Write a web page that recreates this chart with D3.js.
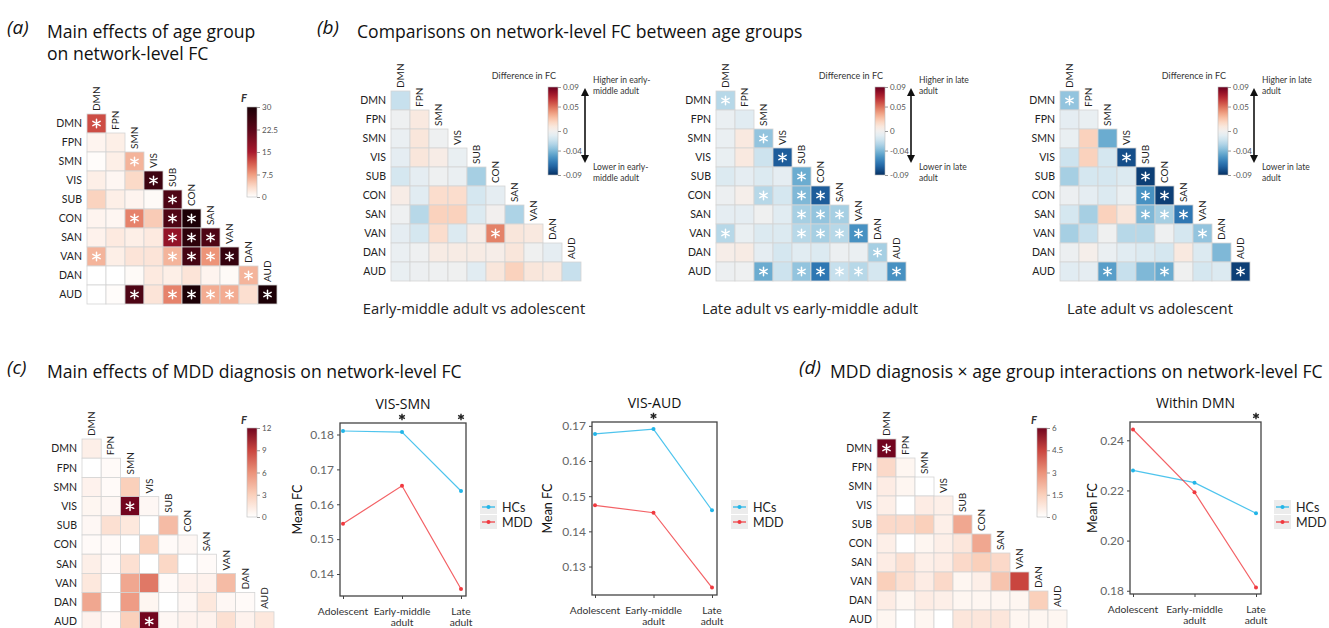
<!DOCTYPE html>
<html>
<head>
<meta charset="utf-8">
<script src="https://cdn.jsdelivr.net/npm/d3@7"></script>
<style>
  body { margin: 0; background: #fff; }
  svg { display: block; font-family: Lato, "Open Sans", sans-serif; }
</style>
</head>
<body>
<svg id="fig" width="1329" height="628"></svg>
<script>
// networks shared by every matrix
const nets = ["DMN", "FPN", "SMN", "VIS", "SUB", "CON", "SAN", "VAN", "DAN", "AUD"];

// (a) F values, main effect of age group (lower triangle, row by row)
const ageF = [
    [12],
    [1, 1.5],
    [0.3, 1.5, 6],
    [1.5, 0.8, 3.5, 26],
    [4, 1.5, 1, 0.5, 24],
    [1, 0.8, 9, 4.5, 24, 31],
    [1.2, 2, 1.5, 2, 17, 28, 24],
    [6, 1.5, 2.5, 2.5, 6, 25, 8, 27],
    [0, 0, 0.5, 2, 1.5, 2.5, 1, 0.5, 6],
    [0, 0.3, 24, 2.5, 9, 30, 6.5, 6.5, 3, 30]
];
const ageSig = [
    [1],
    [0, 0],
    [0, 0, 1],
    [0, 0, 0, 1],
    [0, 0, 0, 0, 1],
    [0, 0, 1, 0, 1, 1],
    [0, 0, 0, 0, 1, 1, 1],
    [1, 0, 0, 0, 1, 1, 1, 1],
    [0, 0, 0, 0, 0, 0, 0, 0, 1],
    [0, 0, 1, 0, 1, 1, 1, 1, 0, 1]
];

// (b) differences in FC between age groups
const emVsAdol = [
    [-0.02],
    [-0.003, 0.008],
    [-0.005, 0.01, -0.003],
    [-0.008, 0.01, 0.005, -0.006],
    [-0.015, -0.008, -0.003, -0.005, -0.03],
    [0.005, -0.01, 0.015, 0.015, -0.015, -0.008],
    [-0.003, -0.025, 0.02, 0.02, -0.012, 0, -0.028],
    [-0.008, -0.015, 0.015, -0.012, 0.005, 0.045, 0.01, 0.008],
    [-0.005, -0.003, 0.006, 0.006, 0.006, 0.004, 0.01, -0.002, -0.008],
    [-0.006, -0.004, -0.003, -0.002, -0.01, 0.01, 0.02, 0.01, 0.008, -0.02]
];
const emVsAdolSig = [
    [0],
    [0, 0],
    [0, 0, 0],
    [0, 0, 0, 0],
    [0, 0, 0, 0, 0],
    [0, 0, 0, 0, 0, 0],
    [0, 0, 0, 0, 0, 0, 0],
    [0, 0, 0, 0, 0, 1, 0, 0],
    [0, 0, 0, 0, 0, 0, 0, 0, 0],
    [0, 0, 0, 0, 0, 0, 0, 0, 0, 0]
];
const lateVsEm = [
    [-0.025],
    [-0.005, -0.01],
    [-0.005, 0.008, -0.035],
    [-0.006, 0.008, -0.018, -0.075],
    [-0.012, -0.008, -0.012, -0.008, -0.045],
    [-0.004, 0.003, -0.025, -0.015, -0.04, -0.075],
    [-0.008, -0.008, -0.002, -0.01, -0.03, -0.035, -0.03],
    [-0.025, -0.006, -0.012, -0.012, -0.025, -0.03, -0.025, -0.055],
    [0.004, 0.006, -0.008, -0.015, -0.01, -0.012, -0.004, -0.005, -0.03],
    [-0.004, -0.003, -0.045, -0.018, -0.035, -0.065, -0.02, -0.025, -0.015, -0.055]
];
const lateVsEmSig = ageSig;
const lateVsAdol = [
    [-0.035],
    [-0.008, -0.006],
    [-0.006, 0.02, -0.045],
    [-0.018, 0.02, -0.015, -0.08],
    [-0.03, -0.015, -0.015, -0.012, -0.085],
    [-0.004, -0.008, -0.012, -0.006, -0.055, -0.085],
    [-0.015, -0.03, 0.02, 0.01, -0.04, -0.03, -0.065],
    [-0.03, -0.02, -0.002, -0.025, -0.025, -0.003, -0.015, -0.035],
    [-0.004, 0.003, -0.005, -0.01, -0.012, -0.015, 0.008, -0.012, -0.04],
    [-0.01, -0.008, -0.05, -0.02, -0.04, -0.045, -0.002, -0.015, -0.012, -0.085]
];
const lateVsAdolSig = [
    [1],
    [0, 0],
    [0, 0, 0],
    [0, 0, 0, 1],
    [0, 0, 0, 0, 1],
    [0, 0, 0, 0, 1, 1],
    [0, 0, 0, 0, 1, 1, 1],
    [0, 0, 0, 0, 0, 0, 0, 1],
    [0, 0, 0, 0, 0, 0, 0, 0, 0],
    [0, 0, 1, 0, 0, 1, 0, 0, 0, 1]
];

// (c) F values, main effect of MDD diagnosis
const mddF = [
    [1],
    [0, 0.3],
    [0.8, 0.3, 3],
    [0.6, 0.5, 12, 0.5],
    [0.5, 2, 1.5, 0, 4],
    [0.3, 0.3, 0, 3, 0.3, 0.5],
    [1, 0.3, 2, 0, 2.5, 0, 0.3],
    [1.5, 0, 5, 7, 0.3, 0.8, 0.8, 4],
    [5, 0, 5.5, 0.6, 0, 0.5, 1.5, 0.5, 0.3],
    [0.8, 0.3, 3, 12, 0.5, 0.8, 0.8, 2, 0.8, 1.5]
];
const mddSig = [
    [0],
    [0, 0],
    [0, 0, 0],
    [0, 0, 1, 0],
    [0, 0, 0, 0, 0],
    [0, 0, 0, 0, 0, 0],
    [0, 0, 0, 0, 0, 0, 0],
    [0, 0, 0, 0, 0, 0, 0, 0],
    [0, 0, 0, 0, 0, 0, 0, 0, 0],
    [0, 0, 0, 1, 0, 0, 0, 0, 0, 0]
];

// (d) F values, MDD x age group interaction
const intF = [
    [6],
    [1.2, 0.3],
    [0.6, 0.3, 0],
    [0.5, 0, 0.6, 0.5],
    [1.2, 1.2, 1.5, 0.5, 2.5],
    [0.5, 0, 0.3, 0.5, 0.8, 2.5],
    [0.6, 1, 0.5, 0.6, 1.2, 1.5, 1.2],
    [1.5, 1, 0.6, 1.2, 0.3, 0.5, 1.8, 4.5],
    [0.6, 0.3, 0.6, 0.5, 0.3, 0.3, 0.3, 0.3, 1.5],
    [0.3, 0, 0.3, 0, 0.8, 0.8, 0.8, 0.3, 0.3, 0.3]
];
const intSig = [
    [1],
    [0, 0],
    [0, 0, 0],
    [0, 0, 0, 0],
    [0, 0, 0, 0, 0],
    [0, 0, 0, 0, 0, 0],
    [0, 0, 0, 0, 0, 0, 0],
    [0, 0, 0, 0, 0, 0, 0, 0],
    [0, 0, 0, 0, 0, 0, 0, 0, 0],
    [0, 0, 0, 0, 0, 0, 0, 0, 0, 0]
];

// line plots: mean FC per age group
const groups = ["Adolescent", "Early-middle adult", "Late adult"];
const visSmnHC = [0.1810, 0.1807, 0.1638];
const visSmnMDD = [0.1544, 0.1653, 0.1357];
const visAudHC = [0.1677, 0.1691, 0.1460];
const visAudMDD = [0.1474, 0.1453, 0.1240];
const dmnHC = [0.2280, 0.2231, 0.2109];
const dmnMDD = [0.2443, 0.2193, 0.1813];

const hcColor = "#22b5e8";
const mddColor = "#f0393f";
const headFont = "'Open Sans', Lato, sans-serif";

let svg = d3.select("#fig");
svg.append("rect").attr("width", 1329).attr("height", 628).attr("fill", "#fff");

let defs = svg.append("defs");
defs.append("marker")
    .attr("id", "arrow")
    .attr("viewBox", "0 0 10 10")
    .attr("refX", 5).attr("refY", 5)
    .attr("markerWidth", 5).attr("markerHeight", 5)
    .attr("orient", "auto-start-reverse")
    .append("path")
    .attr("d", "M0,0L10,5L0,10z")
    .attr("fill", "#111");

function starPath(cx, cy, r) {
    return [90, 30, 150].map(a => {
        let t = a * Math.PI / 180;
        let dx = r * Math.cos(t), dy = r * Math.sin(t);
        return "M" + (cx - dx) + "," + (cy - dy) + "L" + (cx + dx) + "," + (cy + dy);
    }).join("");
}

function renderHeat(o) {
    let n = nets.length;
    let x = d3.scaleBand().domain(nets).range([o.x, o.x + o.cell * n]);
    let y = d3.scaleBand().domain(nets).range([o.y, o.y + o.cell * n]);
    let cells = [];
    o.values.forEach((row, i) => row.forEach((v, j) => {
        cells.push({ r: nets[i], c: nets[j], v: v, s: o.sig[i][j] });
    }));

    let g = svg.append("g");
    g.selectAll(".cell")
        .data(cells)
        .enter()
        .append("rect")
        .attr("x", d => x(d.c))
        .attr("y", d => y(d.r))
        .attr("width", x.bandwidth())
        .attr("height", y.bandwidth())
        .attr("fill", d => o.color(d.v))
        .attr("stroke", "#d4d4d4")
        .attr("stroke-width", 0.8);

    g.selectAll(".star")
        .data(cells.filter(d => d.s))
        .enter()
        .append("path")
        .attr("d", d => starPath(x(d.c) + x.bandwidth() / 2, y(d.r) + y.bandwidth() / 2, 4.2))
        .attr("stroke", "#fff")
        .attr("stroke-width", 1.5)
        .attr("stroke-linecap", "round");

    g.selectAll(".rl")
        .data(nets)
        .enter()
        .append("text")
        .attr("x", o.x - 5)
        .attr("y", d => y(d) + y.bandwidth() / 2)
        .attr("dy", "0.36em")
        .attr("text-anchor", "end")
        .attr("font-size", "10.5px")
        .attr("fill", "#222")
        .text(d => d);

    g.selectAll(".cl")
        .data(nets)
        .enter()
        .append("text")
        .attr("transform", d => "translate(" + (x(d) + x.bandwidth() / 2) + "," + (y(d) - 3) + ") rotate(-90)")
        .attr("dy", "0.36em")
        .attr("font-size", "10px")
        .attr("fill", "#222")
        .text(d => d);
}

let cbCount = 0;
function renderColorbar(o) {
    let id = "cb" + (cbCount++);
    let ext = d3.extent(o.ticks);
    let grad = defs.append("linearGradient")
        .attr("id", id)
        .attr("x1", 0).attr("y1", 1).attr("x2", 0).attr("y2", 0);
    d3.range(0, 1.0001, 0.05).forEach(t => {
        grad.append("stop")
            .attr("offset", t)
            .attr("stop-color", o.color(ext[0] + t * (ext[1] - ext[0])));
    });
    svg.append("rect")
        .attr("x", o.x).attr("y", o.y)
        .attr("width", o.w).attr("height", o.h)
        .attr("fill", "url(#" + id + ")")
        .attr("stroke", "#bbb")
        .attr("stroke-width", 0.6);

    let scale = d3.scaleLinear().domain(ext).range([o.y + o.h, o.y]);
    let ax = svg.append("g")
        .attr("transform", "translate(" + (o.x + o.w) + ",0)")
        .call(d3.axisRight(scale).tickValues(o.ticks).tickSize(3).tickPadding(2).tickFormat(o.fmt));
    ax.select(".domain").remove();
    ax.selectAll("line").attr("stroke", "#999");
    ax.selectAll("text").attr("font-size", "8px").attr("fill", "#555").attr("font-family", "Lato, sans-serif");

    if (o.label) {
        svg.append("text")
            .attr("x", o.labelX).attr("y", o.labelY)
            .attr("font-size", o.labelSize)
            .attr("font-style", o.labelItalic ? "italic" : "normal")
            .attr("font-weight", o.labelItalic ? "bold" : "normal")
            .attr("text-anchor", o.labelAnchor || "start")
            .attr("fill", "#333")
            .text(o.label);
    }
}

function renderArrow(o) {
    svg.append("line")
        .attr("x1", o.x).attr("x2", o.x)
        .attr("y1", o.y1 + 4).attr("y2", o.y2 - 4)
        .attr("stroke", "#111")
        .attr("stroke-width", 1.6)
        .attr("marker-start", "url(#arrow)")
        .attr("marker-end", "url(#arrow)");
    let lines = [[o.top, o.y1 - 5], [o.bottom, o.y2 + 7]];
    lines.forEach(([txt, yy]) => {
        txt.forEach((s, k) => {
            svg.append("text")
                .attr("x", o.x + 8)
                .attr("y", yy + k * 11)
                .attr("font-size", "8.5px")
                .attr("fill", "#333")
                .text(s);
        });
    });
}

function renderLines(o) {
    let x = d3.scalePoint().domain(groups).range([o.x0 + 3, o.x1 - 5]);
    let y = d3.scaleLinear().domain(o.domain).range([o.y1, o.y0]);
    let g = svg.append("g");

    g.append("rect")
        .attr("x", o.x0).attr("y", o.y0)
        .attr("width", o.x1 - o.x0).attr("height", o.y1 - o.y0)
        .attr("fill", "none")
        .attr("stroke", "#444")
        .attr("stroke-width", 1.3);

    let ya = g.append("g")
        .attr("transform", "translate(" + o.x0 + ",0)")
        .call(d3.axisLeft(y).tickValues(o.ticks).tickSize(3).tickPadding(3).tickFormat(d3.format(".2f")));
    ya.select(".domain").remove();
    ya.selectAll("line").attr("stroke", "#444");
    ya.selectAll("text").attr("font-size", "12px").attr("fill", "#666").attr("font-family", "Lato, sans-serif");

    let xa = g.append("g")
        .attr("transform", "translate(0," + o.y1 + ")")
        .call(d3.axisBottom(x).tickSize(3).tickFormat(""));
    xa.select(".domain").remove();
    xa.selectAll("line").attr("stroke", "#444");

    groups.forEach(grp => {
        let parts = grp === "Adolescent" ? [grp] : grp === "Late adult" ? ["Late", "adult"] : ["Early-middle", "adult"];
        parts.forEach((p, k) => {
            g.append("text")
                .attr("x", x(grp))
                .attr("y", o.y1 + 19 + k * 10.5)
                .attr("text-anchor", "middle")
                .attr("font-size", "10.3px")
                .attr("fill", "#333")
                .text(p);
        });
    });

    let series = [{ vals: o.hc, color: hcColor }, { vals: o.mdd, color: mddColor }];
    let line = d3.line().x((d, i) => x(groups[i])).y(d => y(d));
    series.forEach(s => {
        g.append("path")
            .attr("d", line(s.vals))
            .attr("fill", "none")
            .attr("stroke", s.color)
            .attr("stroke-opacity", 0.8)
            .attr("stroke-width", 1.2);
        g.selectAll(null)
            .data(s.vals)
            .enter()
            .append("circle")
            .attr("cx", (d, i) => x(groups[i]))
            .attr("cy", d => y(d))
            .attr("r", 2)
            .attr("fill", s.color);
    });

    g.append("text")
        .attr("x", (o.x0 + o.x1) / 2)
        .attr("y", o.y0 - 14)
        .attr("text-anchor", "middle")
        .attr("font-size", "14px")
        .attr("font-family", headFont)
        .attr("fill", "#111")
        .text(o.title);

    g.selectAll(".sigstar")
        .data(o.stars)
        .enter()
        .append("path")
        .attr("d", d => starPath(x(d), o.y0 - 6, 3.3))
        .attr("stroke", "#222")
        .attr("stroke-width", 1.4);

    g.append("text")
        .attr("transform", "translate(" + o.ylabX + "," + ((o.y0 + o.y1) / 2) + ") rotate(-90)")
        .attr("text-anchor", "middle")
        .attr("font-size", "12.5px")
        .attr("fill", "#111")
        .text("Mean FC");

    let legend = [{ name: "HCs", color: hcColor }, { name: "MDD", color: mddColor }];
    legend.forEach((l, k) => {
        let ly = o.legendY + k * 15;
        g.append("rect")
            .attr("x", o.legendX).attr("y", ly - 7)
            .attr("width", 17).attr("height", 14)
            .attr("fill", "#ececec");
        g.append("line")
            .attr("x1", o.legendX + 2).attr("x2", o.legendX + 15)
            .attr("y1", ly).attr("y2", ly)
            .attr("stroke", l.color).attr("stroke-width", 1.2);
        g.append("circle")
            .attr("cx", o.legendX + 8.5).attr("cy", ly).attr("r", 2)
            .attr("fill", l.color);
        g.append("text")
            .attr("x", o.legendX + 22).attr("y", ly)
            .attr("dy", "0.36em")
            .attr("font-size", "12.5px")
            .attr("fill", "#222")
            .text(l.name);
    });
}

function heading(tag, tx, ty, lines, lx, ly) {
    svg.append("text")
        .attr("x", tx).attr("y", ty)
        .attr("font-size", "19px")
        .attr("font-style", "italic")
        .attr("font-family", headFont)
        .attr("fill", "#111")
        .text(tag);
    lines.forEach((s, k) => {
        svg.append("text")
            .attr("x", lx).attr("y", ly + k * 22)
            .attr("font-size", "17.6px")
            .attr("font-family", headFont)
            .attr("fill", "#111")
            .text(s);
    });
}

// colour scales
let ageColor = d3.scaleLinear()
    .domain([0, 3.75, 7.5, 11.25, 15, 22.5, 30])
    .range(["#ffffff", "#fbd7c4", "#f09d80", "#d65a4b", "#a8192d", "#5a0619", "#1c0006"])
    .clamp(true);
let diffColor = v => d3.interpolateRdBu(Math.max(0, Math.min(1, 0.5 - v / 0.18)));
let redRange = ["#ffffff", "#fad0bb", "#eb927a", "#c9453f", "#72051f"];
let mddColorScale = d3.scaleLinear().domain([0, 3, 6, 9, 12]).range(redRange).clamp(true);
let intColorScale = d3.scaleLinear().domain([0, 1.5, 3, 4.5, 6]).range(redRange).clamp(true);

// (a)
heading("(a)", 7, 34, ["Main effects of age group", "on network-level FC"], 47, 38);
renderHeat({ x: 87, y: 114, cell: 19, values: ageF, sig: ageSig, color: ageColor });
renderColorbar({ x: 247, y: 107, w: 10, h: 90, color: ageColor, ticks: [0, 7.5, 15, 22.5, 30],
    fmt: d3.format(""), label: "F", labelX: 241, labelY: 102, labelSize: "11px", labelItalic: true });

// (b)
heading("(b)", 317, 34, ["Comparisons on network-level FC between age groups"], 357, 38);
let bPanels = [
    { x: 391, vals: emVsAdol, sig: emVsAdolSig, cb: 548, arrow: 585, who: ["early-", "middle adult"],
      title: "Early-middle adult vs adolescent", tx: 474 },
    { x: 716, vals: lateVsEm, sig: lateVsEmSig, cb: 875, arrow: 911, who: ["late", "adult"],
      title: "Late adult vs early-middle adult", tx: 810 },
    { x: 1060, vals: lateVsAdol, sig: lateVsAdolSig, cb: 1218, arrow: 1254, who: ["late", "adult"],
      title: "Late adult vs adolescent", tx: 1150 }
];
bPanels.forEach(p => {
    renderHeat({ x: p.x, y: 91, cell: 19, values: p.vals, sig: p.sig, color: diffColor });
    renderColorbar({ x: p.cb, y: 87, w: 10, h: 88, color: diffColor, ticks: [-0.09, -0.04, 0, 0.05, 0.09],
        fmt: d => d === 0 ? "0" : d3.format(".2f")(d).replace("−", "-"),
        label: "Difference in FC", labelX: p.cb + 8, labelY: 79, labelSize: "9px", labelAnchor: "end" });
    renderArrow({ x: p.arrow, y1: 88, y2: 163,
        top: ["Higher in " + p.who[0], p.who[1]], bottom: ["Lower in " + p.who[0], p.who[1]] });
    svg.append("text")
        .attr("x", p.tx).attr("y", 314)
        .attr("text-anchor", "middle")
        .attr("font-size", "14.8px")
        .attr("font-family", headFont)
        .attr("fill", "#222")
        .text(p.title);
});

// (c)
heading("(c)", 7, 374, ["Main effects of MDD diagnosis on network-level FC"], 47, 378);
renderHeat({ x: 82, y: 439, cell: 19.2, values: mddF, sig: mddSig, color: mddColorScale });
renderColorbar({ x: 247, y: 428, w: 10, h: 89, color: mddColorScale, ticks: [0, 3, 6, 9, 12],
    fmt: d3.format(""), label: "F", labelX: 241, labelY: 424, labelSize: "11px", labelItalic: true });
renderLines({ x0: 340, x1: 466, y0: 423, y1: 596, domain: [0.1337, 0.1833], ticks: [0.14, 0.15, 0.16, 0.17, 0.18],
    hc: visSmnHC, mdd: visSmnMDD, title: "VIS-SMN", stars: ["Early-middle adult", "Late adult"],
    ylabX: 302, legendX: 480, legendY: 507 });
renderLines({ x0: 592, x1: 717, y0: 422, y1: 595, domain: [0.1219, 0.1711], ticks: [0.13, 0.14, 0.15, 0.16, 0.17],
    hc: visAudHC, mdd: visAudMDD, title: "VIS-AUD", stars: ["Early-middle adult"],
    ylabX: 552, legendX: 731, legendY: 507 });

// (d)
heading("(d)", 799, 374, ["MDD diagnosis \u00d7 age group interactions on network-level FC"], 830, 378);
renderHeat({ x: 877, y: 439, cell: 19, values: intF, sig: intSig, color: intColorScale });
renderColorbar({ x: 1037, y: 428, w: 10, h: 89, color: intColorScale, ticks: [0, 1.5, 3, 4.5, 6],
    fmt: d3.format(""), label: "F", labelX: 1031, labelY: 424, labelSize: "11px", labelItalic: true });
renderLines({ x0: 1130, x1: 1261, y0: 422, y1: 594, domain: [0.1787, 0.2473], ticks: [0.18, 0.20, 0.22, 0.24],
    hc: dmnHC, mdd: dmnMDD, title: "Within DMN", stars: ["Late adult"],
    ylabX: 1097, legendX: 1274, legendY: 507 });
</script>
</body>
</html>
